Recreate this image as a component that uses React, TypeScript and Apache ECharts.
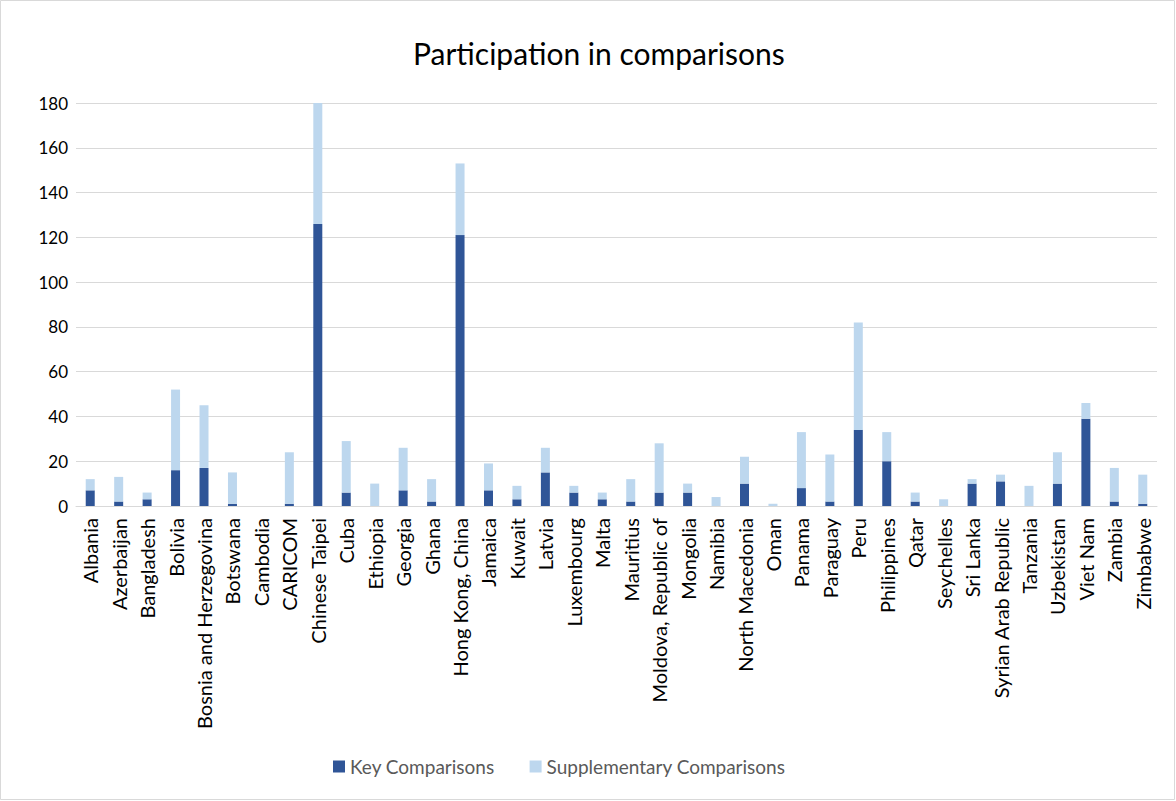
import React, { useEffect, useRef } from "react";
import * as echarts from "echarts";

const categories = [
  "Albania", "Azerbaijan", "Bangladesh", "Bolivia", "Bosnia and Herzegovina", "Botswana",
  "Cambodia", "CARICOM", "Chinese Taipei", "Cuba", "Ethiopia", "Georgia", "Ghana",
  "Hong Kong, China", "Jamaica", "Kuwait", "Latvia", "Luxembourg", "Malta", "Mauritius",
  "Moldova, Republic of", "Mongolia", "Namibia", "North Macedonia", "Oman", "Panama",
  "Paraguay", "Peru", "Philippines", "Qatar", "Seychelles", "Sri Lanka",
  "Syrian Arab Republic", "Tanzania", "Uzbekistan", "Viet Nam", "Zambia", "Zimbabwe",
];

const keyComparisons = [
  7, 2, 3, 16, 17, 1, 0, 1, 126, 6, 0, 7, 2, 121, 7, 3, 15, 6, 3, 2,
  6, 6, 0, 10, 0, 8, 2, 34, 20, 2, 0, 10, 11, 0, 10, 39, 2, 1,
];

const supplementaryComparisons = [
  5, 11, 3, 36, 28, 14, 0, 23, 54, 23, 10, 19, 10, 32, 12, 6, 11, 3, 3, 10,
  22, 4, 4, 12, 1, 25, 21, 48, 13, 4, 3, 2, 3, 9, 14, 7, 15, 13,
];

const yTicks = { min: 0, max: 180, interval: 20 };

const FONT = "Lato, 'Open Sans', sans-serif";

export default function App() {
  const ref = useRef<HTMLDivElement>(null);

  useEffect(() => {
    if (!ref.current) return;
    const chart = echarts.init(ref.current, undefined, { renderer: "svg" });
    chart.setOption({
      animation: false,
      backgroundColor: "#ffffff",
      textStyle: { fontFamily: FONT },
      title: {
        text: "Participation in comparisons",
        left: 408,
        top: 33,
        textStyle: { fontFamily: FONT, fontSize: 30, fontWeight: "normal", color: "#000000" },
      },
      legend: {
        bottom: 20,
        left: 328,
        itemWidth: 12,
        itemHeight: 12,
        itemGap: 35,
        icon: "rect",
        textStyle: { fontFamily: FONT, fontSize: 19, color: "#595959" },
        data: ["Key Comparisons", "Supplementary Comparisons"],
      },
      grid: { left: 76, right: 19, top: 103, bottom: 295, containLabel: false },
      xAxis: {
        type: "category",
        data: categories,
        axisTick: { show: false },
        axisLine: { show: true, lineStyle: { color: "#d9d9d9", width: 1 } },
        axisLabel: {
          rotate: 90,
          interval: 0,
          margin: 12,
          fontFamily: FONT,
          fontSize: 20,
          color: "#000000",
        },
      },
      yAxis: {
        type: "value",
        min: yTicks.min,
        max: yTicks.max,
        interval: yTicks.interval,
        axisLine: { show: false },
        axisTick: { show: false },
        splitLine: { lineStyle: { color: "#d9d9d9", width: 1 } },
        axisLabel: { fontFamily: FONT, fontSize: 17, color: "#000000", margin: 8 },
      },
      series: [
        {
          name: "Key Comparisons",
          type: "bar",
          stack: "total",
          barWidth: 9,
          itemStyle: { color: "#2F5597" },
          data: keyComparisons,
        },
        {
          name: "Supplementary Comparisons",
          type: "bar",
          stack: "total",
          barWidth: 9,
          itemStyle: { color: "#BDD7EE" },
          data: supplementaryComparisons,
        },
      ],
      graphic: [
        {
          type: "rect",
          shape: { x: 0.5, y: 0.5, width: 1174, height: 799 },
          style: { fill: "none", stroke: "#d9d9d9", lineWidth: 1 },
          silent: true,
        },
      ],
    });
    return () => chart.dispose();
  }, []);

  return (
    <div
      ref={ref}
      style={{ position: "absolute", left: 0, top: 0, width: 1176, height: 801 }}
    />
  );
}
